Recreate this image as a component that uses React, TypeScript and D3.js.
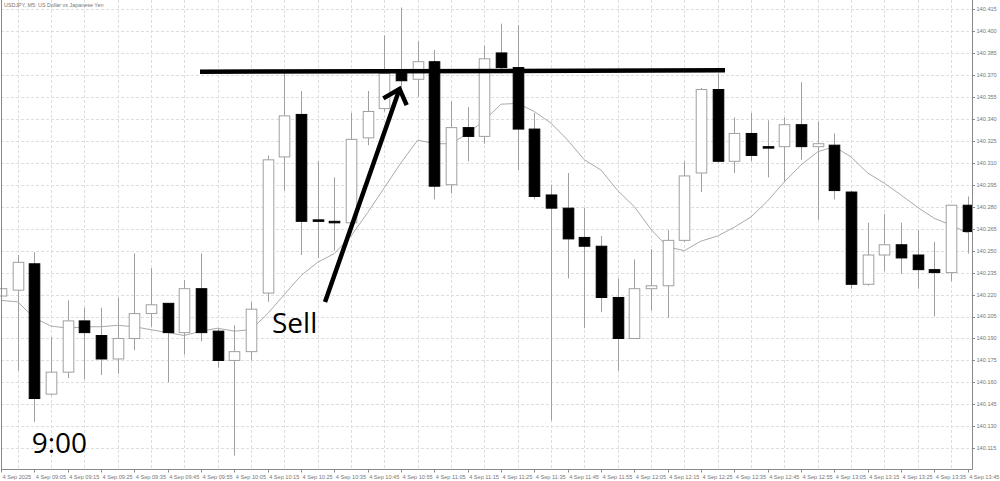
import React, { useRef, useEffect } from 'react';
import * as d3 from 'd3';

const WIDTH = 1000;
const HEIGHT = 481;

const title = 'USDJPY, M5: US Dollar vs Japanese Yen';

// one label every second bar, first one sits on bar 0
const timeLabels = [
  '4 Sep 2025', '4 Sep 09:05', '4 Sep 09:15', '4 Sep 09:25', '4 Sep 09:35', '4 Sep 09:45',
  '4 Sep 09:55', '4 Sep 10:05', '4 Sep 10:15', '4 Sep 10:25', '4 Sep 10:35', '4 Sep 10:45',
  '4 Sep 10:55', '4 Sep 11:05', '4 Sep 11:15', '4 Sep 11:25', '4 Sep 11:35', '4 Sep 11:45',
  '4 Sep 11:55', '4 Sep 12:05', '4 Sep 12:15', '4 Sep 12:25', '4 Sep 12:35', '4 Sep 12:45',
  '4 Sep 12:55', '4 Sep 13:05', '4 Sep 13:15', '4 Sep 13:25', '4 Sep 13:35', '4 Sep 13:45',
];

const priceTicks = [
  140.115, 140.13, 140.145, 140.16, 140.175, 140.19, 140.205, 140.22, 140.235, 140.25, 140.265,
  140.28, 140.295, 140.31, 140.325, 140.34, 140.355, 140.37, 140.385, 140.4, 140.415,
];

const opens = [
  140.219, 140.223, 140.241, 140.152, 140.167, 140.202, 140.192, 140.176, 140.19, 140.207,
  140.214, 140.194, 140.224, 140.195, 140.175, 140.181, 140.221, 140.314, 140.343, 140.271,
  140.27, 140.269, 140.327, 140.347, 140.371, 140.367, 140.379, 140.295, 140.334, 140.328,
  140.385, 140.375, 140.333, 140.288, 140.279, 140.259, 140.253, 140.218, 140.19, 140.224,
  140.226, 140.257, 140.303, 140.36, 140.311, 140.33, 140.321, 140.321, 140.336, 140.321,
  140.322, 140.29, 140.227, 140.247, 140.254, 140.247, 140.237, 140.235, 140.281,
];
const highs = [
  140.226, 140.247, 140.249, 140.191, 140.216, 140.211, 140.211, 140.218, 140.248, 140.238,
  140.214, 140.23, 140.248, 140.197, 140.199, 140.215, 140.315, 140.371, 140.359, 140.311,
  140.3, 140.344, 140.359, 140.397, 140.416, 140.393, 140.387, 140.352, 140.348, 140.39,
  140.405, 140.404, 140.344, 140.295, 140.303, 140.279, 140.26, 140.231, 140.244, 140.251,
  140.264, 140.311, 140.361, 140.371, 140.341, 140.344, 140.339, 140.341, 140.365, 140.338,
  140.33, 140.291, 140.269, 140.275, 140.269, 140.264, 140.256, 140.281, 140.287,
];
const lows = [
  140.214, 140.168, 140.133, 140.151, 140.163, 140.162, 140.165, 140.166, 140.182, 140.198,
  140.16, 140.179, 140.188, 140.17, 140.11, 140.175, 140.215, 140.291, 140.247, 140.245,
  140.25, 140.262, 140.322, 140.345, 140.36, 140.355, 140.285, 140.289, 140.311, 140.323,
  140.371, 140.305, 140.285, 140.134, 140.231, 140.197, 140.208, 140.168, 140.19, 140.209,
  140.204, 140.256, 140.29, 140.31, 140.303, 140.311, 140.3, 140.297, 140.312, 140.271,
  140.285, 140.224, 140.226, 140.236, 140.234, 140.224, 140.205, 140.229, 140.248,
];
const closes = [
  140.224, 140.242, 140.149, 140.167, 140.202, 140.194, 140.176, 140.19, 140.207, 140.213,
  140.194, 140.224, 140.194, 140.175, 140.181, 140.21, 140.312, 140.342, 140.27, 140.27,
  140.269, 140.326, 140.345, 140.371, 140.366, 140.379, 140.294, 140.334, 140.328, 140.381,
  140.375, 140.333, 140.287, 140.279, 140.258, 140.253, 140.218, 140.19, 140.224, 140.226,
  140.257, 140.301, 140.36, 140.311, 140.33, 140.315, 140.321, 140.336, 140.321, 140.323,
  140.291, 140.227, 140.247, 140.254, 140.245, 140.237, 140.235, 140.281, 140.263,
];

// moving average drawn on the chart
const maValues = [
  140.216, 140.215, 140.204, 140.1985, 140.197, 140.198, 140.198, 140.199, 140.198, 140.196,
  140.194, 140.192, 140.195, 140.197, 140.195, 140.196, 140.207, 140.22, 140.233, 140.242,
  140.248, 140.26, 140.276, 140.293, 140.31, 140.3255, 140.323, 140.323, 140.33, 140.339,
  140.35, 140.3505, 140.345, 140.337, 140.3255, 140.312, 140.305, 140.291, 140.28, 140.2645,
  140.2525, 140.25, 140.2565, 140.26, 140.266, 140.273, 140.284, 140.297, 140.3085, 140.3175,
  140.321, 140.314, 140.303, 140.296, 140.288, 140.2795, 140.272, 140.2675, 140.262,
];

// hand drawn annotations, in (bar index, price)
const resistanceLine = [
  [11.94, 140.3722],
  [43.44, 140.3731],
];
const arrowShaft = [
  [19.44, 140.2149],
  [23.91, 140.3604],
];
const arrowHead = [
  [22.94, 140.354],
  [23.91, 140.3604],
  [24.34, 140.3494],
];
const sellLabel = { text: 'Sell', bar: 16.26, price: 140.1937 };
const timeNote = { text: '9:00', bar: 1.84, price: 140.1115 };

export default function App() {
  const ref = useRef<SVGSVGElement>(null);

  useEffect(() => {
    if (!ref.current) return;
    const svg = d3.select(ref.current);
    svg.selectAll('*').remove();

    const plotRight = 972;
    const plotBottom = 469;

    const x = d3.scaleLinear().domain([0, 58]).range([1, 967.7]);
    const y = d3.scaleLinear().domain([140.115, 140.415]).range([448.3, 9]);
    const bodyW = 10.6;

    svg.append('rect').attr('width', WIDTH).attr('height', HEIGHT).attr('fill', '#fff');

    svg
      .append('defs')
      .append('clipPath')
      .attr('id', 'plot')
      .append('rect')
      .attr('x', 0)
      .attr('y', 0)
      .attr('width', plotRight)
      .attr('height', plotBottom);

    const plot = svg.append('g').attr('clip-path', 'url(#plot)');

    // grid
    plot
      .selectAll('.hgrid')
      .data(priceTicks)
      .join('line')
      .attr('x1', 1)
      .attr('x2', plotRight)
      .attr('y1', (d) => Math.round(y(d)) + 0.5)
      .attr('y2', (d) => Math.round(y(d)) + 0.5)
      .attr('stroke', '#dedede')
      .attr('stroke-dasharray', '3,2');

    plot
      .selectAll('.vgrid')
      .data(timeLabels)
      .join('line')
      .attr('x1', (_d, i) => Math.round(x(i * 2 + 1)) + 0.5)
      .attr('x2', (_d, i) => Math.round(x(i * 2 + 1)) + 0.5)
      .attr('y1', 0)
      .attr('y2', plotBottom)
      .attr('stroke', '#dedede')
      .attr('stroke-dasharray', '3,2');

    // MA
    const maLine = d3
      .line<number>()
      .x((_d, i) => x(i))
      .y((d) => y(d));
    plot
      .append('path')
      .attr('d', maLine(maValues))
      .attr('fill', 'none')
      .attr('stroke', '#aaaaaa')
      .attr('stroke-width', 1);

    // candles
    const bars = d3.range(opens.length);
    const candle = plot.selectAll('.candle').data(bars).join('g').attr('class', 'candle');

    candle
      .append('line')
      .attr('x1', (i) => Math.round(x(i)) + 0.5)
      .attr('x2', (i) => Math.round(x(i)) + 0.5)
      .attr('y1', (i) => y(highs[i]))
      .attr('y2', (i) => y(lows[i]))
      .attr('stroke', '#a0a0a0')
      .attr('stroke-width', 1);

    candle
      .append('rect')
      .attr('x', (i) => Math.round(x(i)) + 0.5 - bodyW / 2)
      .attr('y', (i) => y(Math.max(opens[i], closes[i])))
      .attr('width', bodyW)
      .attr('height', (i) => Math.max(1.5, Math.abs(y(opens[i]) - y(closes[i]))))
      .attr('fill', (i) => (closes[i] > opens[i] ? '#ffffff' : '#000000'))
      .attr('stroke', (i) => (closes[i] > opens[i] ? '#a0a0a0' : '#000000'))
      .attr('stroke-width', 1);

    // annotations
    const pt = d3
      .line<number[]>()
      .x((d) => x(d[0]))
      .y((d) => y(d[1]));

    svg
      .append('path')
      .attr('d', pt(resistanceLine))
      .attr('stroke', '#000')
      .attr('stroke-width', 4.5)
      .attr('fill', 'none');

    svg
      .append('path')
      .attr('d', pt(arrowShaft))
      .attr('stroke', '#000')
      .attr('stroke-width', 4.5)
      .attr('fill', 'none');

    svg
      .append('path')
      .attr('d', pt(arrowHead))
      .attr('stroke', '#000')
      .attr('stroke-width', 4.5)
      .attr('stroke-linejoin', 'miter')
      .attr('fill', 'none');

    [sellLabel, timeNote].forEach((t) => {
      svg
        .append('text')
        .attr('x', x(t.bar))
        .attr('y', y(t.price))
        .attr('font-family', '"Open Sans", sans-serif')
        .attr('font-size', 28)
        .attr('fill', '#000')
        .text(t.text);
    });

    // frame
    svg
      .append('path')
      .attr('d', `M1.5,0 V${plotBottom + 0.5} H${plotRight + 0.5} V0`)
      .attr('fill', 'none')
      .attr('stroke', '#8a8a8a');

    // right axis
    const yAxis = svg.append('g');
    yAxis
      .selectAll('line')
      .data(priceTicks)
      .join('line')
      .attr('x1', plotRight)
      .attr('x2', plotRight + 3)
      .attr('y1', (d) => Math.round(y(d)) + 0.5)
      .attr('y2', (d) => Math.round(y(d)) + 0.5)
      .attr('stroke', '#8a8a8a');
    yAxis
      .selectAll('text')
      .data(priceTicks)
      .join('text')
      .attr('x', plotRight + 4.5)
      .attr('y', (d) => y(d))
      .attr('dy', '0.35em')
      .attr('font-family', '"Liberation Sans", Arial, sans-serif')
      .attr('font-size', 5.6)
      .attr('fill', '#777')
      .text((d) => d.toFixed(3));

    // bottom axis
    const xAxis = svg.append('g');
    xAxis
      .selectAll('line')
      .data(timeLabels)
      .join('line')
      .attr('x1', (_d, i) => Math.round(x(i * 2)) + 0.5)
      .attr('x2', (_d, i) => Math.round(x(i * 2)) + 0.5)
      .attr('y1', plotBottom)
      .attr('y2', plotBottom + 3.5)
      .attr('stroke', '#8a8a8a');
    xAxis
      .selectAll('text')
      .data(timeLabels)
      .join('text')
      .attr('x', (_d, i) => x(i * 2) + 1.5)
      .attr('y', 477)
      .attr('dy', '0.35em')
      .attr('font-family', '"Liberation Sans", Arial, sans-serif')
      .attr('font-size', 5.6)
      .attr('fill', '#777')
      .text((d) => d);

    svg
      .append('text')
      .attr('x', 4)
      .attr('y', 5.5)
      .attr('dy', '0.35em')
      .attr('font-family', '"Liberation Sans", Arial, sans-serif')
      .attr('font-size', 5.4)
      .attr('fill', '#777')
      .text(title);
  }, []);

  return (
    <>
      <style>{'body{margin:0}'}</style>
      <svg ref={ref} width={WIDTH} height={HEIGHT} style={{ display: 'block' }} />
    </>
  );
}
